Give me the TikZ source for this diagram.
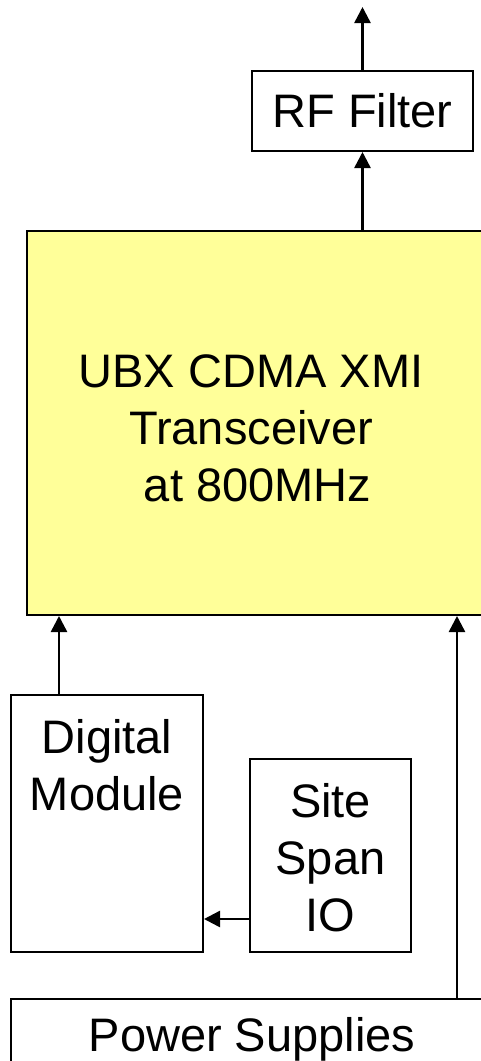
\documentclass[tikz,border=0pt]{standalone}
\usepackage{fontspec}
\setmainfont{Liberation Sans}
\usetikzlibrary{arrows.meta}
\definecolor{ylw}{HTML}{FFFF99}
\begin{document}
\begin{tikzpicture}[x=1pt,y=-1pt,
  box/.style={draw=black,line width=2pt,inner sep=0pt,rectangle},
  lbl/.style={inner sep=0pt,anchor=base,font=\fontsize{47}{57}\selectfont},
  conn/.style={line width=2.5pt,-{Triangle[width=16pt,length=16pt]}}]
\useasboundingbox (0,0) rectangle (481,1061);
\clip (0,0) rectangle (481,1061);
% boxes
\node[box,minimum width=221pt,minimum height=80pt] (rf) at (362.5,111) {};
\node[box,fill=ylw,minimum width=473pt,minimum height=384pt] (ubx) at (263.5,423) {};
\node[box,minimum width=192pt,minimum height=257pt] (dm) at (107,823.5) {};
\node[box,minimum width=161pt,minimum height=193pt] (site) at (330.5,855.5) {};
\node[box,minimum width=489pt,minimum height=101pt] (ps) at (255.5,1049.5) {};
% labels
\node[lbl] (rft) at (362.5,127) {RF Filter};
\node[lbl] (ubxt) at (251,387) {\begin{tabular}[t]{@{}c@{}}UBX CDMA XMI\\Transceiver\\~at 800MHz\end{tabular}};
\node[lbl] (dmt) at (107,753) {\begin{tabular}[t]{@{}c@{}}Digital\\Module\end{tabular}};
\node[lbl] (sitet) at (330.5,817) {\begin{tabular}[t]{@{}c@{}}Site\\Span\\IO\end{tabular}};
\node[lbl] (pst) at (252,1051) {Power Supplies};
% connectors
\coordinate (out) at (362.5,7);
\draw[conn] (rf.north) -- (out);
\draw[conn] (rf.south |- ubx.north) -- (rf.south);
\draw[conn] ([xshift=-48pt]dm.north) -- ([xshift=-48pt]dm.north |- ubx.south);
\path (ps.north west) ++(447,0) coordinate (pwr);
\draw[conn] (pwr) -- (pwr |- ubx.south);
\draw[conn] ([yshift=-63.5pt]site.west) -- ([yshift=-63.5pt]site.west -| dm.east);
\end{tikzpicture}
\end{document}
